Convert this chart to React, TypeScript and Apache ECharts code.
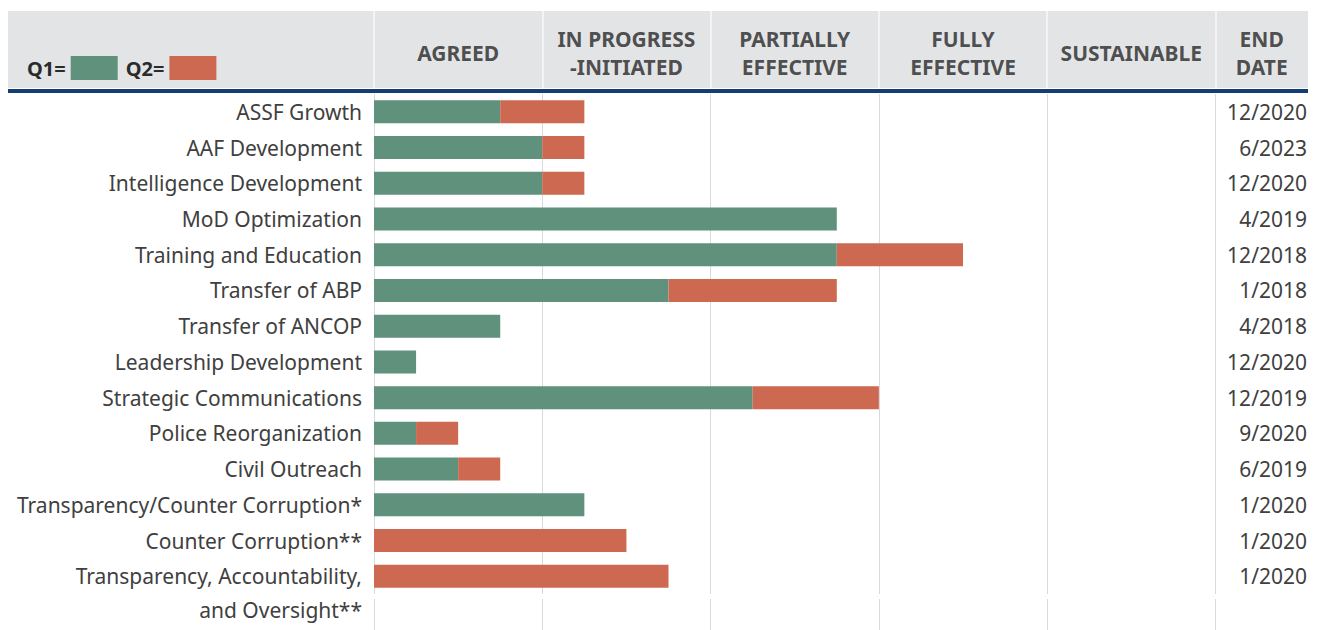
import React, { useEffect, useRef } from "react";
import * as echarts from "echarts";

const categories = [
  "ASSF Growth",
  "AAF Development",
  "Intelligence Development",
  "MoD Optimization",
  "Training and Education",
  "Transfer of ABP",
  "Transfer of ANCOP",
  "Leadership Development",
  "Strategic Communications",
  "Police Reorganization",
  "Civil Outreach",
  "Transparency/Counter Corruption*",
  "Counter Corruption**",
  "Transparency, Accountability,\nand Oversight**",
];

// Q1 progress (in stage units) and the Q2 increment stacked on top
const q1Values = [0.75, 1.0, 1.0, 2.75, 2.75, 1.75, 0.75, 0.25, 2.25, 0.25, 0.5, 1.25, 0, 0];
const q2Values = [0.5, 0.25, 0.25, 0, 0.75, 1.0, 0, 0, 0.75, 0.25, 0.25, 0, 1.5, 1.75];

const endDates = [
  "12/2020", "6/2023", "12/2020", "4/2019", "12/2018", "1/2018", "4/2018",
  "12/2020", "12/2019", "9/2020", "6/2019", "1/2020", "1/2020", "1/2020",
];

const stageLabels = ["AGREED", "IN PROGRESS\n-INITIATED", "PARTIALLY\nEFFECTIVE", "FULLY\nEFFECTIVE", "SUSTAINABLE"];
const endDateHeader = "END\nDATE";

const X_MAX = 5.55;
const GREEN = "#5f917c";
const ORANGE = "#cd6951";
const FONT = "Noto Sans";

export default function App() {
  const ref = useRef<HTMLDivElement>(null);

  useEffect(() => {
    if (!ref.current) return;
    const chart = echarts.init(ref.current, null, { renderer: "svg" });

    const headerData: any[] = stageLabels.map((s, i) => ({ value: [i + 0.5, 0.5], name: s }));
    headerData.push({ value: [(stageLabels.length + X_MAX) / 2, 0.5], name: endDateHeader });

    const yData = categories.map((c) =>
      c.includes("\n") ? { value: c, textStyle: { lineHeight: 34 } } : c
    );

    const xCommon = (gridIndex: number, color: string, width: number) => ({
      type: "value",
      gridIndex,
      min: 0,
      max: X_MAX,
      interval: 1,
      axisLine: { show: false },
      axisTick: { show: false },
      axisLabel: { show: false },
      splitLine: { show: true, showMinLine: true, showMaxLine: false, lineStyle: { color, width } },
    });

    const option: any = {
      animation: false,
      backgroundColor: "#ffffff",
      textStyle: { fontFamily: FONT },
      graphic: [
        { type: "rect", z: -1, shape: { x: 8, y: 11, width: 1300, height: 77 }, style: { fill: "#e3e4e6" } },
        { type: "rect", z: -1, shape: { x: 8, y: 89, width: 1300, height: 4 }, style: { fill: "#143d74" } },
      ],
      legend: {
        data: ["Q1", "Q2"],
        left: 22,
        top: 51,
        align: "right",
        itemWidth: 47,
        itemHeight: 24,
        itemGap: 8,
        icon: "rect",
        formatter: (n: string) => n + "=",
        textStyle: { fontFamily: FONT, fontSize: 20, fontWeight: "bold", color: "#2b2b2b" },
      },
      grid: [
        { left: 374, right: 10, top: 94, height: 507.5 },
        { left: 374, right: 10, top: 599, bottom: 0 },
        { left: 374, right: 10, top: 11, height: 77 },
      ],
      xAxis: [xCommon(0, "#d9d9d9", 1), xCommon(1, "#d9d9d9", 1), xCommon(2, "#f4f4f5", 2)],
      yAxis: [
        {
          type: "category",
          gridIndex: 0,
          inverse: true,
          data: yData,
          axisLine: { show: false },
          axisTick: { show: false },
          axisLabel: {
            interval: 0,
            hideOverlap: false,
            fontFamily: FONT,
            fontSize: 21,
            color: "#404040",
            margin: 12,
            padding: [0, 0, 6, 0],
            // a blank first line keeps the first text line level with its bar
            formatter: (v: string) => (v.includes("\n") ? " \n" + v : v),
          },
        },
        {
          type: "category",
          gridIndex: 0,
          position: "right",
          inverse: true,
          data: endDates,
          axisLine: { show: false },
          axisTick: { show: false },
          axisLabel: {
            interval: 0,
            inside: true,
            margin: 1,
            padding: [0, 0, 6, 0],
            fontFamily: FONT,
            fontSize: 21,
            color: "#404040",
          },
        },
        { type: "value", gridIndex: 1, show: false },
        { type: "value", gridIndex: 2, min: 0, max: 1, show: false },
      ],
      series: [
        {
          name: "Q1",
          type: "bar",
          stack: "progress",
          xAxisIndex: 0,
          yAxisIndex: 0,
          barWidth: 23,
          itemStyle: { color: GREEN },
          data: q1Values,
        },
        {
          name: "Q2",
          type: "bar",
          stack: "progress",
          xAxisIndex: 0,
          yAxisIndex: 0,
          barWidth: 23,
          itemStyle: { color: ORANGE },
          data: q2Values,
        },
        {
          name: "header",
          type: "scatter",
          xAxisIndex: 2,
          yAxisIndex: 3,
          symbolSize: 0,
          silent: true,
          data: headerData,
          label: {
            show: true,
            position: "inside",
            offset: [0, 3],
            formatter: (p: any) => p.name,
            fontFamily: FONT,
            fontSize: 21,
            fontWeight: "bold",
            color: "#262626",
            lineHeight: 28,
            align: "center",
          },
        },
      ],
    };

    chart.setOption(option);
    return () => chart.dispose();
  }, []);

  return (
    <div
      ref={ref}
      style={{ position: "fixed", left: 0, top: 0, width: 1318, height: 630 }}
    />
  );
}
